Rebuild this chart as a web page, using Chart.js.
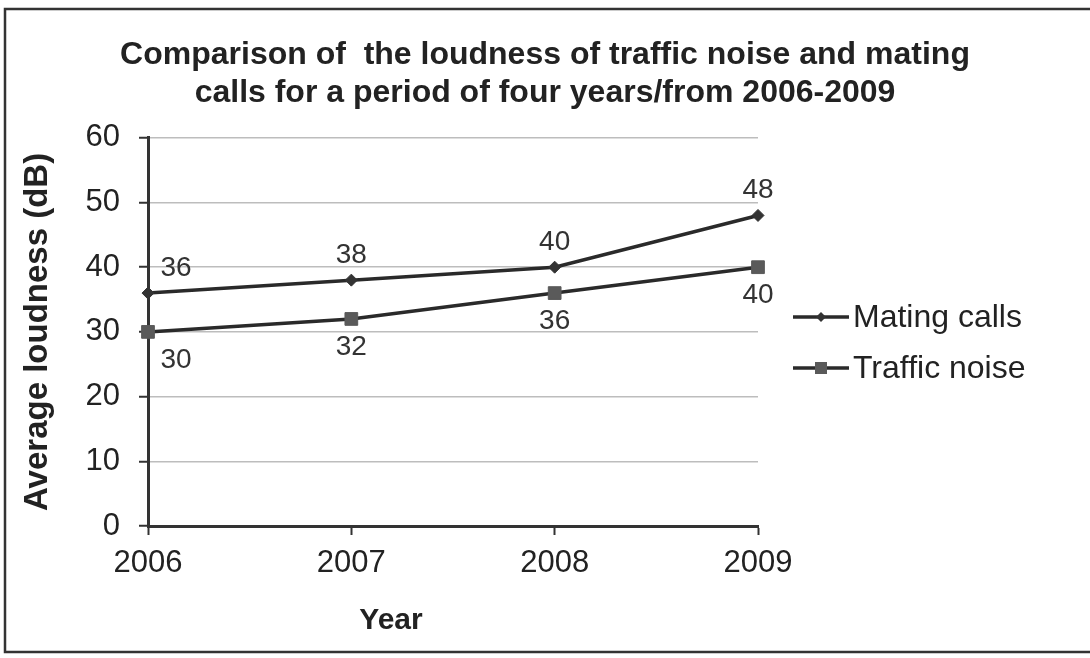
<!DOCTYPE html>
<html>
<head>
<meta charset="utf-8">
<title>Traffic noise and mating calls</title>
<script src="https://cdn.jsdelivr.net/npm/chart.js@4/dist/chart.umd.min.js"></script>
<style>
  html, body { margin: 0; padding: 0; background: #fff; }
  #wrap { width: 1090px; height: 658px; }
</style>
</head>
<body>
<div id="wrap"><canvas id="noiseChart" width="1090" height="658"></canvas></div>
<script>
// ─── DATA ──────────────────────────────────────────────
const years = ['2006', '2007', '2008', '2009'];
const matingCalls = [36, 38, 40, 48];
const trafficNoise = [30, 32, 36, 40];
const seriesNames = ['Mating calls', 'Traffic noise'];
const titleLines = [
  'Comparison of  the loudness of traffic noise and mating',
  'calls for a period of four years/from 2006-2009'
];
const yAxisTitle = 'Average loudness (dB)';
const xAxisTitle = 'Year';

const FONT = "'Liberation Sans', Arial, sans-serif";
const ink = '#222';
const lineColor = '#2a2a2a';

// Frame round the whole chart (scanned box)
const framePlugin = {
  id: 'frame',
  beforeDraw(chart) {
    const ctx = chart.ctx;
    ctx.save();
    ctx.fillStyle = '#fff';
    ctx.fillRect(0, 0, chart.width, chart.height);
    ctx.strokeStyle = '#333';
    ctx.lineWidth = 2.5;
    ctx.beginPath();
    ctx.moveTo(chart.width + 5, 9);
    ctx.lineTo(5, 9);
    ctx.lineTo(5, 652);
    ctx.lineTo(chart.width + 5, 652);
    ctx.stroke();
    ctx.restore();
  }
};

// Value labels: first series above its points, second below
const valueLabelPlugin = {
  id: 'valueLabels',
  afterDatasetsDraw(chart) {
    const ctx = chart.ctx;
    ctx.save();
    ctx.font = `28px ${FONT}`;
    ctx.fillStyle = '#333';
    ctx.textAlign = 'center';
    ctx.textBaseline = 'middle';
    chart.data.datasets.forEach((ds, i) => {
      const meta = chart.getDatasetMeta(i);
      const dy = i === 0 ? -25 : 28;
      meta.data.forEach((pt, j) => {
        const dx = j === 0 ? 28 : 0;
        ctx.fillText(String(ds.data[j]), pt.x + dx, pt.y + dy);
      });
    });
    ctx.restore();
  }
};

// Legend (line + marker) and x axis title
const legendPlugin = {
  id: 'sideLegend',
  afterDraw(chart) {
    const ctx = chart.ctx;
    ctx.save();
    chart.data.datasets.forEach((ds, i) => {
      const cy = 317 + i * 51;
      ctx.strokeStyle = ds.borderColor;
      ctx.lineWidth = 3.5;
      ctx.beginPath();
      ctx.moveTo(793, cy);
      ctx.lineTo(849, cy);
      ctx.stroke();
      ctx.fillStyle = ds.pointBackgroundColor;
      ctx.beginPath();
      if (ds.pointStyle === 'rectRot') {
        ctx.moveTo(821, cy - 5);
        ctx.lineTo(826, cy);
        ctx.lineTo(821, cy + 5);
        ctx.lineTo(816, cy);
        ctx.closePath();
      } else {
        ctx.rect(815, cy - 6, 12, 12);
      }
      ctx.fill();
      ctx.fillStyle = ink;
      ctx.font = `32px ${FONT}`;
      ctx.textAlign = 'left';
      ctx.textBaseline = 'middle';
      ctx.fillText(ds.label, 853, cy + 1);
    });
    ctx.font = `bold 30px ${FONT}`;
    ctx.textAlign = 'center';
    ctx.textBaseline = 'middle';
    ctx.fillStyle = ink;
    ctx.fillText(xAxisTitle, 391, 621);
    ctx.restore();
  }
};

new Chart(document.getElementById('noiseChart'), {
  type: 'line',
  data: {
    labels: years,
    datasets: [
      {
        label: seriesNames[0],
        data: matingCalls,
        borderColor: lineColor,
        borderWidth: 3.5,
        tension: 0,
        pointStyle: 'rectRot',
        pointRadius: 6,
        pointBackgroundColor: '#333',
        pointBorderColor: '#333',
        pointBorderWidth: 1
      },
      {
        label: seriesNames[1],
        data: trafficNoise,
        borderColor: lineColor,
        borderWidth: 3.5,
        tension: 0,
        pointStyle: 'rect',
        pointRadius: 9,
        pointBackgroundColor: '#5a5a5a',
        pointBorderColor: '#5a5a5a',
        pointBorderWidth: 1
      }
    ]
  },
  options: {
    responsive: false,
    animation: false,
    devicePixelRatio: 1,
    layout: { padding: 0 },
    plugins: {
      legend: { display: false },
      tooltip: { enabled: false },
      title: {
        display: true,
        text: titleLines,
        color: ink,
        font: { family: FONT, size: 32, weight: 'bold', lineHeight: 1.2 },
        padding: { top: 36, bottom: 25 }
      }
    },
    scales: {
      x: {
        type: 'category',
        offset: false,
        grid: {
          drawOnChartArea: false,
          drawTicks: true,
          tickLength: 9,
          tickColor: '#333',
          tickWidth: 2
        },
        border: { color: '#333', width: 3 },
        ticks: {
          color: ink,
          font: { family: FONT, size: 31 },
          padding: 10,
          maxRotation: 0
        },
        afterFit: (scale) => { scale.height = 132; }
      },
      y: {
        min: 0,
        max: 60,
        ticks: {
          stepSize: 10,
          color: ink,
          font: { family: FONT, size: 31 },
          padding: 19
        },
        grid: {
          color: '#bdbdbd',
          lineWidth: 1.5,
          tickColor: '#333',
          tickLength: 9,
          tickWidth: 2
        },
        border: { color: '#333', width: 3 },
        title: {
          display: true,
          text: yAxisTitle,
          color: ink,
          font: { family: FONT, size: 33, weight: 'bold' },
          padding: { top: 18, bottom: 0 }
        },
        afterFit: (scale) => { scale.width = 148; }
      },
      // empty right-hand axis, keeps room for the legend
      yRoom: {
        position: 'right',
        display: true,
        grid: { display: false },
        border: { display: false },
        ticks: { display: false },
        afterFit: (scale) => { scale.width = 332; }
      }
    }
  },
  plugins: [framePlugin, valueLabelPlugin, legendPlugin]
});
</script>
</body>
</html>
